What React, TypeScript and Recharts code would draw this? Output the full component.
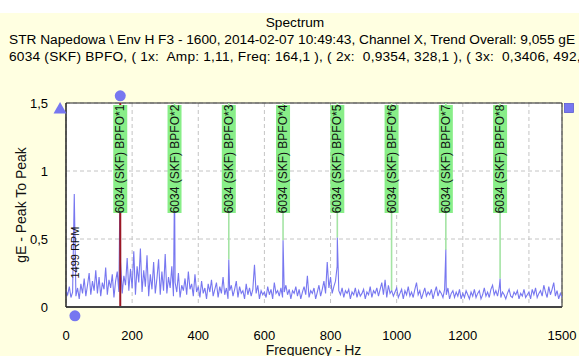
import React from 'react';
import {
  LineChart,
  Line,
  XAxis,
  YAxis,
  CartesianGrid,
  ReferenceLine,
  ReferenceDot,
  ReferenceArea,
} from 'recharts';

// ---------- data ----------
const FREQ_STEP = 5; // Hz between noise-floor samples

// spectrum noise floor, gE, one value every 5 Hz from 0 to 1500 Hz
const noiseFloor: number[] = [
  0.12, 0.09, 0.15, 0.07, 0.11, 0.18, 0.08, 0.14, 0.06, 0.17, 0.10, 0.21, 0.08, 0.16, 0.25, 0.09, 0.19, 0.12, 0.27, 0.10,
  0.22, 0.08, 0.18, 0.13, 0.29, 0.09, 0.20, 0.14, 0.24, 0.07, 0.19, 0.26, 0.11, 0.33, 0.10, 0.23, 0.16, 0.36, 0.12, 0.28,
  0.14, 0.41, 0.09, 0.30, 0.18, 0.43, 0.11, 0.27, 0.15, 0.38, 0.08, 0.24, 0.13, 0.33, 0.10, 0.21, 0.35, 0.09, 0.26, 0.12,
  0.39, 0.10, 0.22, 0.14, 0.30, 0.08, 0.18, 0.11, 0.25, 0.07, 0.16, 0.12, 0.21, 0.09, 0.26, 0.13, 0.17, 0.08, 0.24, 0.11,
  0.15, 0.07, 0.19, 0.10, 0.14, 0.06, 0.17, 0.11, 0.20, 0.08, 0.13, 0.18, 0.07, 0.15, 0.10, 0.22, 0.09, 0.14, 0.06, 0.12,
  0.16, 0.08, 0.13, 0.19, 0.07, 0.15, 0.10, 0.12, 0.06, 0.17, 0.09, 0.14, 0.08, 0.13, 0.31, 0.10, 0.16, 0.06, 0.12, 0.09,
  0.11, 0.07, 0.15, 0.09, 0.13, 0.06, 0.18, 0.10, 0.12, 0.08, 0.14, 0.07, 0.11, 0.16, 0.09, 0.13, 0.06, 0.12, 0.10, 0.15,
  0.08, 0.13, 0.06, 0.11, 0.15, 0.09, 0.23, 0.07, 0.12, 0.10, 0.14, 0.06, 0.11, 0.16, 0.08, 0.13, 0.19, 0.10, 0.33, 0.14,
  0.22, 0.10, 0.15, 0.19, 0.30, 0.12, 0.09, 0.14, 0.07, 0.12, 0.10, 0.13, 0.06, 0.11, 0.09, 0.14, 0.07, 0.12, 0.08, 0.10,
  0.13, 0.06, 0.11, 0.09, 0.15, 0.07, 0.12, 0.10, 0.14, 0.08, 0.13, 0.18, 0.09, 0.20, 0.07, 0.16, 0.10, 0.12, 0.08, 0.11,
  0.14, 0.07, 0.10, 0.13, 0.06, 0.12, 0.09, 0.15, 0.08, 0.11, 0.07, 0.13, 0.18, 0.09, 0.12, 0.06, 0.10, 0.14, 0.08, 0.11,
  0.09, 0.13, 0.06, 0.11, 0.15, 0.08, 0.12, 0.10, 0.07, 0.13, 0.09, 0.14, 0.06, 0.10, 0.12, 0.07, 0.11, 0.08, 0.13, 0.06,
  0.10, 0.07, 0.12, 0.09, 0.06, 0.11, 0.08, 0.13, 0.07, 0.10, 0.12, 0.06, 0.09, 0.14, 0.08, 0.11, 0.07, 0.13, 0.16, 0.09,
  0.12, 0.08, 0.14, 0.07, 0.11, 0.09, 0.06, 0.10, 0.13, 0.08, 0.07, 0.11, 0.09, 0.12, 0.06, 0.10, 0.08, 0.13, 0.07, 0.09,
  0.11, 0.06, 0.13, 0.09, 0.14, 0.07, 0.10, 0.12, 0.08, 0.16, 0.11, 0.07, 0.15, 0.09, 0.13, 0.18, 0.08, 0.12, 0.06, 0.10,
  0.07,
];

// running-speed peak
const rpmFreq = 25;
const rpmAmp = 0.83;
const rpmText = '1499 RPM';
const rpmLabelPos = { freq: 27, amp: 0.4 };

// BPFO harmonics (frequency Hz, amplitude gE)
const harmonicOrders = [1, 2, 3, 4, 5, 6, 7, 8];
const harmonicFreqs = [164.1, 328.2, 492.3, 656.4, 820.5, 984.6, 1148.7, 1312.8];
const harmonicAmps = [1.11, 0.9354, 0.35, 0.49, 0.51, 0.12, 0.42, 0.21];
const bearingName = '6034 (SKF) BPFO';

// cursor handles and axis scale markers
const cursorDots = [
  { freq: 164.1, amp: 1.553 },
  { freq: 27, amp: -0.065 },
];
const triangleMark = { freq: -18, amp: 1.463 };
const squareMark = { freq: 1521, amp: 1.463 };

// axes
const xTicks = [0, 200, 400, 600, 800, 1000, 1200, 1400, 1500];
const xTickLabels = ['0', '200', '400', '600', '800', '1000', '1200', '', '1500'];
const yTicks = [0, 0.5, 1, 1.5];
const yTickLabels = ['0', '0,5', '1', '1,5'];

const titleText = 'Spectrum';
const subtitle1 = 'STR Napedowa \\ Env H F3 - 1600, 2014-02-07 10:49:43, Channel X, Trend Overall: 9,055 gE';
const subtitle2 = '6034 (SKF) BPFO, ( 1x:  Amp: 1,11, Freq: 164,1 ), ( 2x:  0,9354, 328,1 ), ( 3x:  0,3406, 492,2 )';
const yAxisTitle = 'gE - Peak To Peak';
const xAxisTitle = 'Frequency - Hz';

// ---------- build table ----------
const peakPoints = [
  { freq: rpmFreq, amp: rpmAmp },
  ...harmonicFreqs.map((f, i) => ({ freq: f, amp: harmonicAmps[i] })),
];
const peakSet = new Set(peakPoints.map((p) => p.freq));
const spectrum = [
  ...noiseFloor.map((a, i) => ({ freq: i * FREQ_STEP, amp: a })).filter((p) => !peakSet.has(p.freq)),
  ...peakPoints,
].sort((a, b) => a.freq - b.freq);

const FONT = 'Arial, "Liberation Sans", sans-serif';
const BG = '#FFFFE1';
const BLUE = '#7777f0';

const MarkerTag = ({ cx, cy, text }: { cx: number; cy: number; text: string }) => {
  const top = cy + 2;
  const h = 108;
  const mid = top + h / 2;
  return (
    <g>
      <rect x={cx - 7} y={top} width={14} height={h} fill="#88ee88" />
      <text
        x={cx}
        y={mid}
        transform={`rotate(-90 ${cx} ${mid})`}
        textAnchor="middle"
        dominantBaseline="central"
        fontSize={12}
        fontFamily={FONT}
        fill="#111"
      >
        {text}
      </text>
    </g>
  );
};

const App = () => {
  return (
    <div style={{ position: 'fixed', left: 0, top: 0, width: 579, height: 356, background: BG, overflow: 'hidden' }}>
      <div style={{ position: 'absolute', left: 0, top: 0, width: 579, height: 13, background: '#fff' }} />
      <svg width={579} height={70} style={{ position: 'absolute', left: 0, top: 0 }}>
        <text x={295} y={26.5} textAnchor="middle" fontSize={13.7} fontFamily={FONT} fill="#000">
          {titleText}
        </text>
        <text x={9} y={44} fontSize={13.7} fontFamily={FONT} fill="#000" style={{ whiteSpace: 'pre' }}>
          {subtitle1}
        </text>
        <text
          x={9}
          y={61}
          fontSize={13.7}
          fontFamily={FONT}
          fill="#000"
          letterSpacing={0.22}
          style={{ whiteSpace: 'pre' }}
        >
          {subtitle2}
        </text>
      </svg>
      <div style={{ position: 'absolute', left: 0, top: 0 }}>
        <LineChart width={579} height={356} data={spectrum} margin={{ top: 103, right: 17, bottom: 0, left: 0 }}>
          <CartesianGrid
            fill="#ffffff"
            fillOpacity={1}
            stroke="#c4c4c4"
            strokeDasharray="4 3"
          />
          <XAxis
            dataKey="freq"
            type="number"
            domain={[0, 1500]}
            ticks={xTicks}
            interval={0}
            height={49}
            tickSize={0}
            tickMargin={24}
            tickFormatter={(v: number) => xTickLabels[xTicks.indexOf(v)]}
            tick={{ fill: '#000', fontSize: 13, fontFamily: FONT }}
            axisLine={{ stroke: '#444', strokeWidth: 2 }}
            allowDataOverflow
            label={{
              content: () => (
                <text x={313.5} y={355} textAnchor="middle" fontSize={14} fontFamily={FONT} fill="#111">
                  {xAxisTitle}
                </text>
              ),
            }}
          />
          <YAxis
            type="number"
            domain={[0, 1.5]}
            ticks={yTicks}
            interval={0}
            width={66}
            tickSize={0}
            tickMargin={18}
            tickFormatter={(v: number) => yTickLabels[yTicks.indexOf(v)]}
            tick={{ fill: '#000', fontSize: 13, fontFamily: FONT }}
            axisLine={{ stroke: '#222', strokeWidth: 1 }}
            allowDataOverflow
            label={{
              content: () => (
                <text
                  x={21}
                  y={205}
                  transform="rotate(-90 21 205)"
                  textAnchor="middle"
                  dominantBaseline="central"
                  fontSize={14}
                  fontFamily={FONT}
                  fill="#111"
                >
                  {yAxisTitle}
                </text>
              ),
            }}
          />
          {harmonicFreqs.map((f, i) =>
            i === 0 ? null : (
              <ReferenceLine
                key={`g${i}`}
                segment={[
                  { x: f, y: harmonicAmps[i] },
                  { x: f, y: 1.5 },
                ]}
                stroke="#a4e4a4"
                strokeWidth={1.6}
              />
            )
          )}
          <Line
            dataKey="amp"
            type="linear"
            stroke={BLUE}
            strokeWidth={1.1}
            dot={false}
            activeDot={false}
            isAnimationActive={false}
          />
          <ReferenceLine x={harmonicFreqs[0]} stroke="#9c1824" strokeWidth={2} />
          {harmonicFreqs.map((f, i) => (
            <ReferenceDot
              key={`t${i}`}
              x={f}
              y={1.5}
              r={1}
              ifOverflow="visible"
              shape={(p: any) => <MarkerTag cx={p.cx} cy={p.cy} text={`${bearingName}*${harmonicOrders[i]}`} />}
            />
          ))}
          <ReferenceDot
            x={rpmLabelPos.freq}
            y={rpmLabelPos.amp}
            r={1}
            ifOverflow="visible"
            shape={(p: any) => (
              <text
                x={p.cx}
                y={p.cy}
                transform={`rotate(-90 ${p.cx} ${p.cy})`}
                textAnchor="middle"
                dominantBaseline="central"
                fontSize={11}
                fontFamily={FONT}
                fill="#111"
              >
                {rpmText}
              </text>
            )}
          />
          <ReferenceArea x1={0} x2={1500} y1={0} y2={1.5} fill="none" stroke="#222" strokeWidth={1} ifOverflow="visible" />
          {cursorDots.map((d, i) => (
            <ReferenceDot key={`c${i}`} x={d.freq} y={d.amp} r={5.5} fill={BLUE} stroke="none" ifOverflow="visible" />
          ))}
          <ReferenceDot
            x={triangleMark.freq}
            y={triangleMark.amp}
            r={1}
            ifOverflow="visible"
            shape={(p: any) => (
              <polygon
                points={`${p.cx},${p.cy - 6} ${p.cx + 6.5},${p.cy + 5.5} ${p.cx - 6.5},${p.cy + 5.5}`}
                fill={BLUE}
              />
            )}
          />
          <ReferenceDot
            x={squareMark.freq}
            y={squareMark.amp}
            r={1}
            ifOverflow="visible"
            shape={(p: any) => (
              <rect x={p.cx - 4.5} y={p.cy - 4.5} width={9} height={9} fill={BLUE} stroke="#5a5ad0" strokeWidth={0.8} />
            )}
          />
        </LineChart>
      </div>
    </div>
  );
};

export default App;
